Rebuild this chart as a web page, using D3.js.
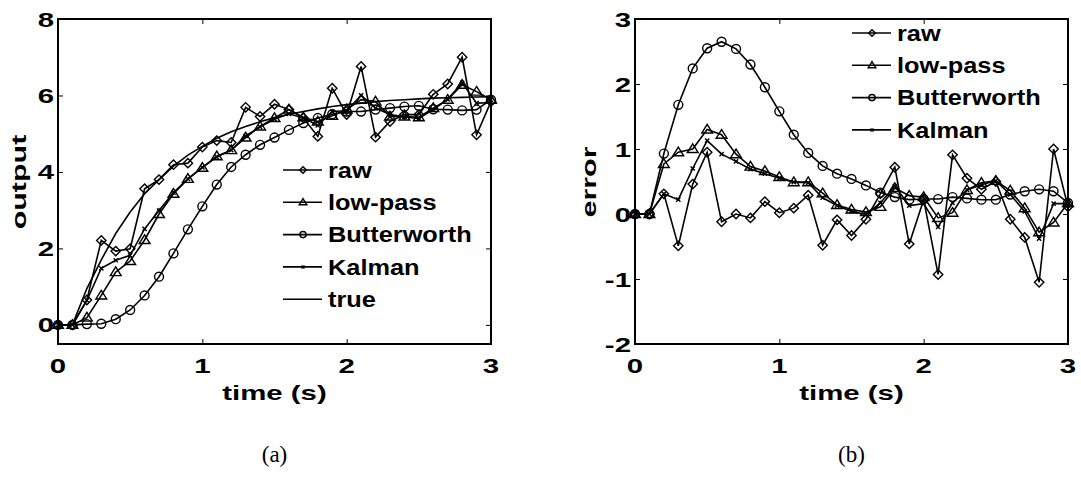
<!DOCTYPE html>
<html>
<head>
<meta charset="utf-8">
<script src="https://cdn.jsdelivr.net/npm/d3@7"></script>
<style>
body { margin: 0; background: #fff; }
svg text { font-family: "Liberation Sans", Arial, sans-serif; font-weight: bold; fill: #000; }
svg text.cap { font-family: "Liberation Serif", "Times New Roman", serif; font-weight: normal; }
</style>
</head>
<body>
<div id="chart"></div>
<script>
var time = [0,0.1,0.2,0.3,0.4,0.5,0.6,0.7,0.8,0.9,1.0,1.1,1.2,1.3,1.4,1.5,1.6,1.7,1.8,1.9,2.0,2.1,2.2,2.3,2.4,2.5,2.6,2.7,2.8,2.9,3.0];

// (a) output
var outRaw = [0,0,0.65,2.21,1.93,1.99,3.56,3.80,4.19,4.23,4.65,4.82,4.77,5.69,5.45,5.77,5.63,5.41,4.93,6.19,5.50,6.76,4.91,5.32,5.50,5.50,6.03,6.30,7.00,4.97,5.84];
var outLowpass = [0,0,0.19,0.77,1.38,1.67,2.22,2.90,3.43,3.82,4.11,4.41,4.57,4.90,5.19,5.41,5.63,5.43,5.32,5.47,5.63,5.89,5.84,5.45,5.45,5.43,5.67,5.89,6.28,6.10,5.89];
var outButter = [0,0,0.02,0.03,0.15,0.39,0.77,1.26,1.87,2.50,3.10,3.67,4.13,4.45,4.71,4.90,5.10,5.28,5.41,5.51,5.58,5.58,5.63,5.67,5.71,5.73,5.64,5.63,5.61,5.63,5.89];
var outKalman = [0,0,0.64,1.48,1.69,1.82,2.51,2.99,3.46,3.82,4.12,4.39,4.57,4.94,5.18,5.38,5.52,5.41,5.22,5.58,5.60,6.00,5.67,5.50,5.44,5.40,5.63,5.90,6.33,5.80,5.81];
var outTrue = [0,0,0.95,1.70,2.39,2.95,3.43,3.80,4.15,4.44,4.67,4.88,5.05,5.19,5.31,5.42,5.51,5.58,5.65,5.71,5.76,5.80,5.84,5.87,5.89,5.91,5.93,5.94,5.95,5.96,5.97];

// (b) error
var errRaw = [0,0,0.31,-0.49,0.46,0.95,-0.12,0.0,-0.06,0.19,0.02,0.09,0.29,-0.48,-0.09,-0.33,-0.08,0.31,0.72,-0.46,0.22,-0.93,0.91,0.55,0.38,0.50,-0.08,-0.36,-1.05,1.00,0.11];
var errLowpass = [0,0,0.77,0.95,1.00,1.30,1.22,0.92,0.73,0.66,0.57,0.49,0.49,0.32,0.14,0.07,0.03,0.11,0.40,0.28,0.26,-0.06,0.02,0.37,0.48,0.51,0.36,0.09,-0.28,-0.13,0.17];
var errButter = [0,0,0.93,1.68,2.24,2.55,2.65,2.54,2.30,1.95,1.58,1.22,0.94,0.74,0.62,0.54,0.44,0.33,0.26,0.22,0.23,0.23,0.26,0.24,0.22,0.22,0.30,0.35,0.38,0.35,0.17];
var errKalman = [0,0,0.31,0.22,0.70,1.13,0.92,0.81,0.69,0.62,0.55,0.49,0.48,0.25,0.13,0.04,-0.01,0.17,0.43,0.13,0.16,-0.20,0.17,0.37,0.45,0.51,0.30,0.04,-0.38,0.16,0.16];

var xTicks = [0,1,2,3];
var yTicksA = [0,2,4,6,8];
var yTicksB = [-2,-1,0,1,2,3];

var W = 1081, H = 483;
var top_y = 19, bottom_y = 344;
var svg = d3.select('#chart').append('svg').attr('width', W).attr('height', H);

// stretched bold text, like the original export
function stext(g, x, y, str, size, sx, anchor, rot) {
	var t = g.append('text')
		.attr('transform', 'translate('+x+','+y+')' + (rot ? ' rotate('+rot+')' : '') + ' scale('+sx+',1)')
		.attr('text-anchor', anchor)
		.style('font-size', size + 'px')
		.text(str);
	return t;
}

function marker(g, type, x, y, s) {
	if (type == 'diamond') {
		g.append('path').attr('d', 'M'+x+','+(y-s)+'L'+(x+s)+','+y+'L'+x+','+(y+s)+'L'+(x-s)+','+y+'Z')
			.attr('fill', 'none').attr('stroke', '#000').attr('stroke-width', 1.4);
	} else if (type == 'triangle') {
		g.append('path').attr('d', 'M'+x+','+(y-s*1.1)+'L'+(x+s*1.15)+','+(y+s*0.75)+'L'+(x-s*1.15)+','+(y+s*0.75)+'Z')
			.attr('fill', 'none').attr('stroke', '#000').attr('stroke-width', 1.4);
	} else if (type == 'circle') {
		g.append('circle').attr('cx', x).attr('cy', y).attr('r', s*0.95)
			.attr('fill', 'none').attr('stroke', '#000').attr('stroke-width', 1.4);
	} else if (type == 'x') {
		var k = s*0.45;
		g.append('path').attr('d', 'M'+(x-k)+','+(y-k)+'L'+(x+k)+','+(y+k)+'M'+(x-k)+','+(y+k)+'L'+(x+k)+','+(y-k))
			.attr('stroke', '#000').attr('stroke-width', 1.4);
	}
}

function panel(opt) {
	var x = d3.scaleLinear().domain([0, 3]).range([opt.left, opt.right]);
	var y = d3.scaleLinear().domain(opt.ydom).range([bottom_y, top_y]);
	var g = svg.append('g');

	var line = d3.line().x(function(d, i){ return x(time[i]); }).y(function(d){ return y(d); });

	opt.series.forEach(function(s){
		g.append('path').datum(s.values).attr('d', line)
			.attr('fill', 'none').attr('stroke', '#000').attr('stroke-width', 1.6);
		if (s.marker) {
			s.values.forEach(function(v, i){ marker(g, s.marker, x(time[i]), y(v), 4.7); });
		}
	});

	// tick marks inside, on every side
	g.append('g').attr('transform', 'translate(0,'+bottom_y+')').call(d3.axisBottom(x).tickValues(xTicks).tickSize(-5).tickFormat(''));
	g.append('g').attr('transform', 'translate('+opt.left+',0)').call(d3.axisLeft(y).tickValues(opt.yticks).tickSize(-5).tickFormat(''));
	g.append('g').attr('transform', 'translate(0,'+top_y+')').call(d3.axisTop(x).tickValues(xTicks).tickSize(-5).tickFormat(''));
	g.append('g').attr('transform', 'translate('+opt.right+',0)').call(d3.axisRight(y).tickValues(opt.yticks).tickSize(-5).tickFormat(''));
	g.selectAll('.domain').remove();
	g.selectAll('.tick line').attr('stroke', '#000').attr('stroke-width', 1);

	// tick labels
	xTicks.forEach(function(v){ stext(g, x(v), 373, String(v), 21, 1.4, 'middle'); });
	opt.yticks.forEach(function(v){
		stext(g, opt.left - 4, y(v) + 7.5, String(v), 21, 1.4, 'end');
	});

	g.append('rect').attr('x', opt.left).attr('y', top_y).attr('width', opt.right - opt.left).attr('height', bottom_y - top_y)
		.attr('fill', 'none').attr('stroke', '#000').attr('stroke-width', 2);

	stext(g, (opt.left + opt.right)/2, 400, 'time (s)', 21, 1.4, 'middle');
	stext(g, opt.ylabX, 182, opt.ylabel, 21, 1.45, 'middle', -90);
	g.append('text').attr('class', 'cap').attr('x', (opt.left + opt.right)/2).attr('y', 462).attr('text-anchor', 'middle')
		.style('font-size', '23px').text(opt.caption);

	// legend
	opt.series.forEach(function(s, i){
		var ly = opt.legY + i*32.3;
		g.append('line').attr('x1', opt.legX).attr('x2', opt.legX + 39).attr('y1', ly).attr('y2', ly)
			.attr('stroke', '#000').attr('stroke-width', 1.6);
		if (s.marker) marker(g, s.marker, opt.legX + 20, ly, 3.3);
		stext(g, opt.legX + 45, ly + 7.8, s.name, 21.5, 1.18, 'start');
	});
}

panel({
	left: 58, right: 491, ydom: [-0.5, 8], yticks: yTicksA, ylabel: 'output', ylabX: 26, caption: '(a)',
	legX: 283, legY: 170,
	series: [
		{name: 'raw', values: outRaw, marker: 'diamond'},
		{name: 'low-pass', values: outLowpass, marker: 'triangle'},
		{name: 'Butterworth', values: outButter, marker: 'circle'},
		{name: 'Kalman', values: outKalman, marker: 'x'},
		{name: 'true', values: outTrue, marker: null}
	]
});

panel({
	left: 635, right: 1068, ydom: [-2, 3], yticks: yTicksB, ylabel: 'error', ylabX: 596, caption: '(b)',
	legX: 852, legY: 33,
	series: [
		{name: 'raw', values: errRaw, marker: 'diamond'},
		{name: 'low-pass', values: errLowpass, marker: 'triangle'},
		{name: 'Butterworth', values: errButter, marker: 'circle'},
		{name: 'Kalman', values: errKalman, marker: 'x'}
	]
});
</script>
</body>
</html>
